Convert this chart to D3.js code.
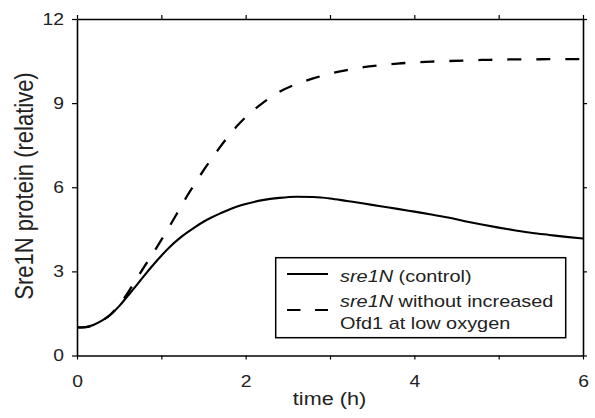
<!DOCTYPE html>
<html><head><meta charset="utf-8">
<script src="https://cdn.jsdelivr.net/npm/d3@7/dist/d3.min.js"></script>
<style>body{margin:0;background:#fff}svg{display:block}</style>
</head><body>
<svg id="chart" width="595" height="418"></svg>
<script>
// ---- data ----
const time = [0,0.1,0.2,0.3,0.4,0.5,0.6,0.7,0.8,0.9,1.0,1.1,1.2,1.3,1.4,1.5,1.6,1.7,1.8,1.9,2.0,2.2,2.4,2.6,2.8,3.0,3.2,3.4,3.6,3.8,4.0,4.2,4.4,4.6,4.8,5.0,5.2,5.4,5.6,5.8,6.0];
const sre1NControl = [1.0,1.01,1.1,1.25,1.46,1.76,2.12,2.48,2.86,3.22,3.56,3.87,4.14,4.37,4.58,4.77,4.93,5.07,5.2,5.31,5.4,5.54,5.62,5.66,5.65,5.6,5.51,5.42,5.32,5.23,5.13,5.03,4.92,4.79,4.67,4.56,4.46,4.37,4.30,4.23,4.17];
const sre1NNoOfd1 = [1.0,1.01,1.1,1.25,1.47,1.8,2.22,2.7,3.18,3.64,4.12,4.62,5.14,5.66,6.14,6.6,7.03,7.45,7.84,8.19,8.5,9.0,9.4,9.68,9.88,10.05,10.18,10.28,10.35,10.41,10.45,10.48,10.5,10.52,10.54,10.55,10.56,10.56,10.57,10.57,10.57];
const xTickValues = [0,1,2,3,4,5,6];
const xTickLabels = ["0","","2","","4","","6"];
const yTickValues = [0,3,6,9,12];
const yTickLabels = ["0","3","6","9","12"];
const xTitle = "time (h)";
const yTitle = "Sre1N protein (relative)";
const legendItems = [
  {italic:"sre1N", rest:" (control)", rest2:null, dash:null},
  {italic:"sre1N", rest:" without increased", rest2:"Ofd1 at low oxygen", dash:"13.5,14.5"}
];

// ---- layout ----
const FONT = "'Liberation Sans', Arial, Helvetica, sans-serif";
const SX = 1.17; // horizontal glyph stretch seen in reference
const TXT = "#222";
const L = 77, R = 583, T = 19, B = 355.5;

const svg = d3.select("#chart");
const x = d3.scaleLinear().domain([0,6]).range([L,R]);
const y = d3.scaleLinear().domain([0,12]).range([B,T]);

function styleAxis(g){
  g.select(".domain").attr("stroke","#000").attr("stroke-width",1.6);
  g.selectAll(".tick line").attr("stroke","#000").attr("stroke-width",1.2);
  g.selectAll("text").attr("font-family",FONT).attr("font-size",16.5).attr("fill",TXT);
}

// bottom
const gB = svg.append("g").attr("transform",`translate(0,${B})`)
  .call(d3.axisBottom(x).tickValues(xTickValues).tickSize(4).tickSizeOuter(0)
    .tickFormat((d,i)=>xTickLabels[i]));
styleAxis(gB);
gB.selectAll("text").attr("y",19.5).attr("transform",`scale(${SX},1)`);

// left
const gL = svg.append("g").attr("transform",`translate(${L},0)`)
  .call(d3.axisLeft(y).tickValues(yTickValues).tickSize(5).tickSizeOuter(0)
    .tickFormat((d,i)=>yTickLabels[i]));
styleAxis(gL);
gL.selectAll("text").attr("x",-13/SX).attr("transform",`scale(${SX},1)`);

// top
const gT = svg.append("g").attr("transform",`translate(0,${T})`)
  .call(d3.axisTop(x).tickValues(xTickValues).tickSize(4).tickSizeOuter(0).tickFormat(""));
styleAxis(gT);

// right
const gR = svg.append("g").attr("transform",`translate(${R},0)`)
  .call(d3.axisRight(y).tickValues(yTickValues).tickSize(4).tickSizeOuter(0).tickFormat(""));
styleAxis(gR);

// lines
const line = d3.line().x(d=>x(d[0])).y(d=>y(d[1])).curve(d3.curveMonotoneX);
svg.append("path").datum(time.map((t,i)=>[t,sre1NControl[i]]))
  .attr("d",line).attr("fill","none").attr("stroke","#000").attr("stroke-width",2.1);
svg.append("path").datum(time.map((t,i)=>[t,sre1NNoOfd1[i]]))
  .attr("d",line).attr("fill","none").attr("stroke","#000").attr("stroke-width",2.3)
  .attr("stroke-dasharray","14,15");

// titles
svg.append("text").attr("transform",`translate(329.5,405) scale(${SX},1)`)
  .attr("text-anchor","middle").attr("font-family",FONT).attr("font-size",18.5).attr("fill",TXT)
  .text(xTitle);
svg.append("text").attr("transform",`translate(33,186) scale(${SX},1) rotate(-90)`)
  .attr("text-anchor","middle").attr("font-family",FONT).attr("font-size",22).attr("fill",TXT)
  .text(yTitle);

// legend
const lg = svg.append("g");
lg.append("rect").attr("x",275.7).attr("y",257.7).attr("width",290).attr("height",80)
  .attr("fill","#fff").attr("stroke","#000").attr("stroke-width",1.5);
const rowY = [274, 310];
const textY = [[282],[306.5,329]];
legendItems.forEach((it,i)=>{
  lg.append("line").attr("x1",287).attr("x2",328).attr("y1",rowY[i]).attr("y2",rowY[i])
    .attr("stroke","#000").attr("stroke-width",2.2)
    .attr("stroke-dasharray",it.dash);
  const t = lg.append("text").attr("transform",`translate(340,${textY[i][0]}) scale(${SX},1)`)
    .attr("font-family",FONT).attr("font-size",17).attr("fill",TXT);
  t.append("tspan").attr("font-style","italic").text(it.italic);
  t.append("tspan").text(it.rest);
  if(it.rest2){
    lg.append("text").attr("transform",`translate(340,${textY[i][1]}) scale(${SX},1)`)
      .attr("font-family",FONT).attr("font-size",17).attr("fill",TXT).text(it.rest2);
  }
});
</script>
</body></html>
